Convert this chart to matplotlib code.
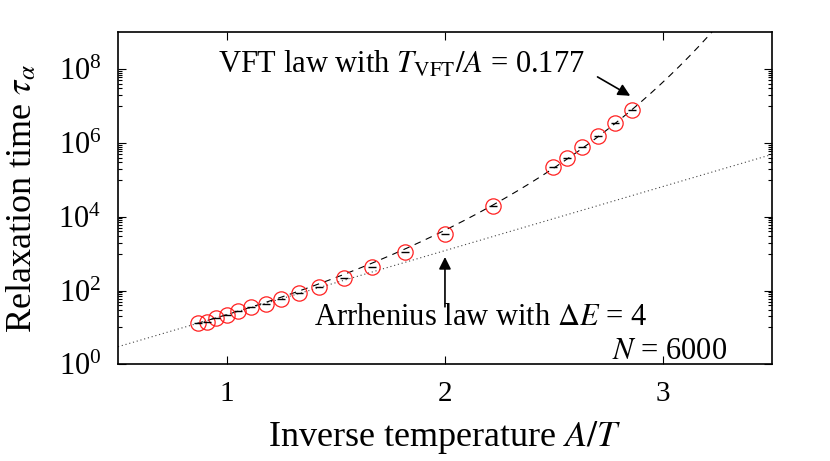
import numpy as np
import matplotlib
matplotlib.use("Agg")
import matplotlib.pyplot as plt
from matplotlib.ticker import FixedLocator, LogFormatterSciNotation, NullFormatter

plt.rcParams['font.family'] = ['Liberation Serif', 'DejaVu Serif']
plt.rcParams['mathtext.fontset'] = 'stix'

inv_temp = [0.865, 0.906, 0.950, 0.999, 1.052, 1.109, 1.177, 1.248, 1.332, 1.424,
            1.537, 1.665, 1.818, 1.998, 2.222, 2.497, 2.562, 2.629, 2.703, 2.778, 2.856]
tau = [12.8, 14.2, 18.2, 21.5, 27.0, 34.7, 43.0, 59.0, 85.0, 128.0,
       224.0, 435.0, 1100.0, 3470.0, 1.9e4, 2.19e5, 4.0e5, 7.6e5, 1.57e6, 3.4e6, 7.9e6]

# fit parameters
dE = 4.0          # Arrhenius activation energy
tau0_arr = 0.405  # Arrhenius prefactor
t_vft = 0.177     # T_VFT / A
B_vft = 2.8
tau0_vft = np.exp(-0.3)

x_arr = np.linspace(0.5, 3.5, 200)
y_arr = tau0_arr * np.exp(dE * x_arr)
x_vft = np.linspace(0.86, 3.35, 400)
y_vft = tau0_vft * np.exp(B_vft / (1.0 / x_vft - t_vft))

fig = plt.figure(figsize=(8.3, 4.61), dpi=100)
ax = fig.add_axes([0.1422, 0.2098, 0.7878, 0.7202])

ax.plot(x_arr, y_arr, linestyle=(0, (1, 2.5)), color='#444444', lw=0.8)
ax.plot(x_vft, y_vft, linestyle=(0, (6, 5)), color='black', lw=0.8)
ax.plot(inv_temp, tau, 'o', mfc='none', mec='#ff2020', ms=11, mew=0.9)
ax.plot(inv_temp, tau, '_', color='black', ms=6, mew=1.0)

ax.set_yscale('log')
ax.set_xlim(0.5, 3.5)
ax.set_ylim(1, 1e9)
ax.set_xticks([1, 2, 3])
ax.set_xticklabels(['1', '2', '3'])
ax.yaxis.set_major_locator(FixedLocator([10.0 ** k for k in range(0, 10, 2)]))
ax.yaxis.set_major_formatter(LogFormatterSciNotation())
minors = [m * 10.0 ** k for k in range(1, 9, 2) for m in range(1, 10)]
ax.yaxis.set_minor_locator(FixedLocator(minors))
ax.yaxis.set_minor_formatter(NullFormatter())

ax.tick_params(which='both', direction='in', top=True, right=True)
ax.tick_params(which='major', length=6, width=0.8, labelsize=21, pad=12)
ax.tick_params(axis='y', which='major', labelsize=22)
ax.tick_params(which='minor', length=3, width=0.8)
for s in ax.spines.values():
    s.set_linewidth(1.2)

ax.set_xlabel('Inverse temperature $A/T$', fontsize=26, labelpad=9)
ax.set_ylabel(r'Relaxation time $\tau_\alpha$', fontsize=26, labelpad=14)

arrow = dict(arrowstyle='-|>', color='black', lw=1.2, mutation_scale=18, shrinkA=0, shrinkB=0)
ax.text(0.957, 10 ** 7.908, r'VFT law with $T_\mathrm{VFT}/A$ = 0.177', fontsize=22,
        ha='left', va='baseline')
ax.annotate('', xy=(2.85, 10 ** 7.278), xytext=(2.70, 10 ** 7.79), arrowprops=arrow)
ax.text(1.40, 10 ** 1.06, r'Arrhenius law with $\Delta E$ = 4', fontsize=22,
        ha='left', va='baseline')
ax.annotate('', xy=(2.0, 10 ** 2.908), xytext=(2.0, 10 ** 1.557), arrowprops=arrow)
ax.text(3.296, 10 ** 0.135, '$N$ = 6000', fontsize=22, ha='right', va='baseline')

fig.savefig('out.png', dpi=100)
